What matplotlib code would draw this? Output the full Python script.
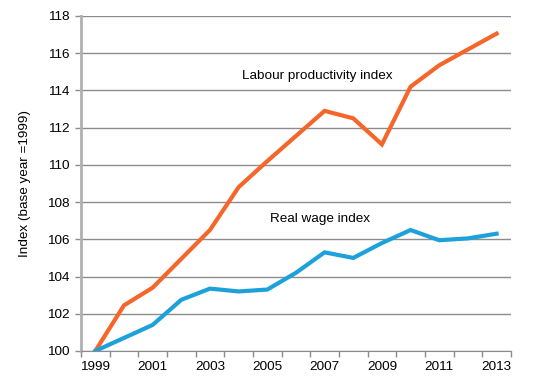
import matplotlib.pyplot as plt
import numpy as np

plt.rcParams['font.family'] = ['Liberation Sans', 'DejaVu Sans']

years = list(range(1999, 2014))
productivity = [100, 102.45, 103.4, 104.95, 106.5, 108.8, 110.2, 111.55, 112.9,
                112.5, 111.1, 114.2, 115.35, 116.2, 117.05]
real_wage = [100, 100.7, 101.4, 102.75, 103.35, 103.2, 103.3, 104.2, 105.3,
             105.0, 105.8, 106.5, 105.95, 106.05, 106.3]
y_ticks = list(range(100, 119, 2))

fs = 9.7
fig = plt.figure(figsize=(5.47, 3.83), dpi=100)
ax = fig.add_axes([0.148, 0.0836, 0.786, 0.8747])

x = np.arange(len(years))
ax.plot(x, productivity, color='#F4662A', lw=3, solid_joinstyle='miter', zorder=3)
ax.plot(x, real_wage, color='#1DA1DA', lw=3, solid_joinstyle='miter', zorder=3)

ax.set_xlim(-0.5, len(years) - 0.5)
ax.set_ylim(100, 118)
ax.set_yticks(y_ticks)
ax.set_yticklabels([str(v) for v in y_ticks], fontsize=fs)
ax.yaxis.grid(True, color='#8c8c8c', lw=1)
ax.set_axisbelow(True)

# category axis: ticks between categories, label every other year
ax.set_xticks(np.arange(len(years) + 1) - 0.5)
ax.set_xticklabels([])
ax.set_xticks(x[::2], minor=True)
ax.set_xticklabels([str(y) for y in years[::2]], minor=True, fontsize=fs)
ax.tick_params(axis='x', which='minor', length=0, pad=7)
ax.tick_params(axis='x', which='major', length=4, color='#8c8c8c', width=1)
ax.tick_params(axis='y', length=4, color='#8c8c8c', width=1, pad=4)

for s in ['top', 'right']:
    ax.spines[s].set_visible(False)
ax.spines['left'].set_color('#b0b0b0')
ax.spines['left'].set_linewidth(2)
ax.spines['bottom'].set_color('#8c8c8c')

ax.set_ylabel('Index (base year =1999)', fontsize=fs, labelpad=12)

ax.text(7.75, 114.8, 'Labour productivity index', fontsize=fs, ha='center', va='center')
ax.text(7.85, 107.1, 'Real wage index', fontsize=fs, ha='center', va='center')

fig.savefig('out.png', dpi=100)
